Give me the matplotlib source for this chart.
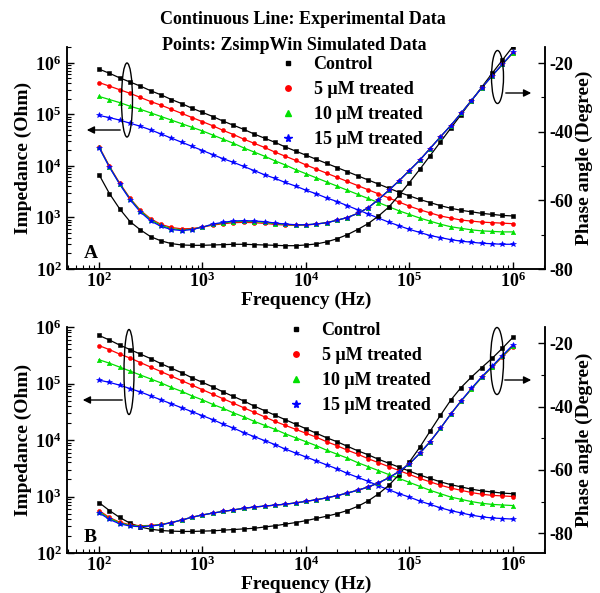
import numpy as np
import matplotlib
matplotlib.use("Agg")
import matplotlib.pyplot as plt
from matplotlib.lines import Line2D
from matplotlib.patches import Ellipse, FancyArrowPatch
from matplotlib.ticker import LogLocator, FuncFormatter, NullFormatter, MultipleLocator

plt.rcParams['font.family'] = ['Liberation Serif', 'DejaVu Serif']
plt.rcParams['font.weight'] = 'bold'
plt.rcParams['mathtext.fontset'] = 'custom'
plt.rcParams['mathtext.rm'] = 'Liberation Serif:bold'
plt.rcParams['mathtext.bf'] = 'Liberation Serif:bold'
plt.rcParams['axes.unicode_minus'] = False

# measurement frequencies, 100 Hz .. 1 MHz, 10 points per decade
freq = np.logspace(2, 6, 41)

labels = ['Control', '5 μM treated', '10 μM treated', '15 μM treated']
colors = ['black', 'red', '#00e000', 'blue']
markers = ['s', 'o', '^', '*']
msizes = [2.6, 2.9, 3.2, 4.3]

# ---- panel A : log10 |Z| (Ohm) ----
zA_ctrl = [5.88, 5.80, 5.71, 5.63, 5.55, 5.46, 5.38, 5.29, 5.21, 5.12,
           5.04, 4.96, 4.87, 4.79, 4.71, 4.62, 4.54, 4.46, 4.37, 4.29,
           4.21, 4.13, 4.05, 3.97, 3.89, 3.81, 3.73, 3.65, 3.57, 3.49,
           3.42, 3.35, 3.29, 3.23, 3.18, 3.14, 3.11, 3.08, 3.06, 3.04, 3.03]
zA_5 = [5.62, 5.55, 5.48, 5.41, 5.33, 5.25, 5.18, 5.10, 5.02, 4.94,
        4.86, 4.78, 4.69, 4.61, 4.52, 4.44, 4.36, 4.27, 4.19, 4.11,
        4.02, 3.94, 3.86, 3.78, 3.70, 3.62, 3.54, 3.46, 3.38, 3.30,
        3.22, 3.15, 3.09, 3.03, 2.99, 2.95, 2.93, 2.91, 2.90, 2.89, 2.88]
zA_10 = [5.35, 5.29, 5.23, 5.16, 5.10, 5.03, 4.96, 4.89, 4.82, 4.75,
         4.68, 4.60, 4.52, 4.44, 4.35, 4.27, 4.19, 4.10, 4.02, 3.93,
         3.85, 3.77, 3.69, 3.61, 3.53, 3.45, 3.37, 3.29, 3.21, 3.13,
         3.06, 2.99, 2.93, 2.87, 2.82, 2.79, 2.76, 2.74, 2.73, 2.72, 2.72]
zA_15 = [4.98, 4.94, 4.89, 4.83, 4.77, 4.70, 4.62, 4.54, 4.46, 4.38,
         4.30, 4.22, 4.14, 4.07, 3.99, 3.91, 3.83, 3.76, 3.68, 3.61,
         3.53, 3.46, 3.38, 3.31, 3.23, 3.15, 3.07, 2.99, 2.91, 2.84,
         2.77, 2.71, 2.65, 2.61, 2.57, 2.54, 2.52, 2.50, 2.49, 2.48, 2.48]

# ---- panel A : phase angle (degree) ----
pA_ctrl = [-52.5, -58.0, -62.5, -66.2, -68.6, -70.6, -71.8, -72.6, -73.0, -73.1,
           -73.1, -73.0, -72.9, -72.8, -72.8, -72.9, -73.0, -73.1, -73.2, -73.2,
           -73.0, -72.7, -72.1, -71.2, -70.0, -68.5, -66.8, -64.6, -62.0, -58.5,
           -54.8, -51.0, -47.0, -43.0, -39.0, -35.0, -31.0, -27.0, -23.0, -19.1, -15.2]
pA_5 = [-44.3, -50.0, -55.0, -59.4, -62.9, -65.4, -67.0, -67.9, -68.3, -68.2,
        -67.8, -67.2, -66.8, -66.5, -66.4, -66.5, -66.7, -67.0, -67.2, -67.3,
        -67.2, -66.9, -66.5, -65.8, -65.0, -63.8, -62.2, -59.8, -57.1, -54.3,
        -51.3, -48.3, -44.9, -41.5, -38.2, -34.6, -30.9, -27.2, -23.7, -20.4, -17.1]
pA_10 = [-44.5, -50.2, -55.2, -59.6, -63.1, -65.7, -67.3, -68.2, -68.6, -68.4,
         -67.8, -67.0, -66.6, -66.2, -66.1, -66.2, -66.4, -66.8, -67.0, -67.2,
         -67.1, -66.9, -66.5, -65.8, -65.0, -63.8, -62.2, -59.8, -57.1, -54.3,
         -51.3, -48.3, -44.9, -41.5, -38.2, -34.6, -30.9, -27.2, -23.7, -20.4, -17.0]
pA_15 = [-44.6, -50.3, -55.3, -59.8, -63.4, -66.0, -67.6, -68.5, -68.8, -68.5,
         -67.8, -66.9, -66.4, -66.0, -65.9, -66.0, -66.2, -66.6, -66.9, -67.1,
         -67.1, -66.9, -66.5, -65.8, -65.0, -63.8, -62.2, -59.8, -57.1, -54.3,
         -51.3, -48.3, -44.9, -41.5, -38.2, -34.6, -30.9, -27.2, -23.7, -20.3, -16.9]

# ---- panel B : log10 |Z| (Ohm) ----
zB_ctrl = [5.85, 5.77, 5.68, 5.60, 5.52, 5.44, 5.35, 5.27, 5.19, 5.10,
           5.02, 4.94, 4.85, 4.77, 4.69, 4.60, 4.52, 4.44, 4.36, 4.28,
           4.20, 4.12, 4.04, 3.97, 3.89, 3.81, 3.74, 3.66, 3.59, 3.52,
           3.45, 3.38, 3.32, 3.26, 3.21, 3.17, 3.13, 3.10, 3.08, 3.06, 3.05]
zB_5 = [5.67, 5.60, 5.52, 5.45, 5.37, 5.29, 5.21, 5.13, 5.05, 4.97,
        4.89, 4.81, 4.73, 4.65, 4.57, 4.49, 4.41, 4.33, 4.26, 4.19,
        4.12, 4.05, 3.97, 3.90, 3.82, 3.75, 3.67, 3.60, 3.53, 3.46,
        3.39, 3.32, 3.26, 3.20, 3.15, 3.11, 3.07, 3.04, 3.02, 3.01, 3.00]
zB_10 = [5.42, 5.36, 5.29, 5.22, 5.15, 5.08, 5.01, 4.93, 4.86, 4.78,
         4.71, 4.63, 4.56, 4.48, 4.41, 4.33, 4.26, 4.19, 4.11, 4.04,
         3.97, 3.90, 3.82, 3.75, 3.68, 3.60, 3.53, 3.46, 3.39, 3.32,
         3.25, 3.18, 3.11, 3.05, 2.99, 2.95, 2.91, 2.88, 2.86, 2.85, 2.84]
zB_15 = [5.06, 5.02, 4.97, 4.91, 4.85, 4.78, 4.71, 4.64, 4.57, 4.50,
         4.43, 4.36, 4.28, 4.21, 4.13, 4.06, 3.99, 3.92, 3.84, 3.77,
         3.70, 3.63, 3.56, 3.49, 3.41, 3.34, 3.27, 3.19, 3.12, 3.05,
         2.99, 2.92, 2.86, 2.80, 2.75, 2.71, 2.67, 2.64, 2.62, 2.61, 2.60]

# ---- panel B : phase angle (degree) ----
pB_ctrl = [-70.3, -72.8, -75.0, -76.8, -78.0, -78.7, -79.1, -79.3, -79.4, -79.4,
           -79.3, -79.2, -79.0, -78.8, -78.6, -78.4, -78.0, -77.6, -77.1, -76.6,
           -76.0, -75.3, -74.6, -73.8, -72.8, -71.5, -69.8, -67.6, -64.9, -61.5,
           -57.5, -52.9, -47.8, -42.8, -38.0, -34.0, -30.7, -27.7, -24.8, -21.6, -18.2]
pB_5 = [-72.8, -75.0, -76.5, -77.3, -77.6, -77.5, -77.2, -76.6, -75.8, -74.9,
        -74.2, -73.6, -73.1, -72.6, -72.1, -71.7, -71.4, -71.1, -70.8, -70.4,
        -69.9, -69.4, -68.8, -68.1, -67.3, -66.4, -65.4, -64.1, -62.5, -60.5,
        -58.1, -54.8, -51.1, -46.9, -42.4, -38.3, -34.5, -30.8, -27.6, -24.3, -21.1]
pB_10 = [-73.2, -75.3, -76.7, -77.5, -77.7, -77.6, -77.2, -76.6, -75.8, -74.9,
         -74.2, -73.6, -73.1, -72.6, -72.1, -71.7, -71.4, -71.1, -70.8, -70.4,
         -69.9, -69.4, -68.8, -68.1, -67.3, -66.4, -65.4, -64.1, -62.5, -60.5,
         -58.1, -54.8, -51.1, -46.9, -42.4, -38.3, -34.5, -30.8, -27.5, -24.1, -20.9]
pB_15 = [-73.5, -75.6, -77.0, -77.7, -77.9, -77.7, -77.3, -76.6, -75.8, -74.9,
         -74.2, -73.6, -73.1, -72.6, -72.1, -71.7, -71.4, -71.1, -70.8, -70.4,
         -69.9, -69.4, -68.8, -68.1, -67.3, -66.4, -65.4, -64.1, -62.5, -60.5,
         -58.1, -54.8, -51.1, -46.9, -42.4, -38.2, -34.3, -30.6, -27.3, -23.9, -20.6]

W, H = 600, 593


def px(x, y):
    # pixel position (from top-left) -> figure fraction
    return x / W, 1 - y / H


fig = plt.figure(figsize=(6.0, 5.93), dpi=100)


def log_fmt(v, pos):
    return r'$\mathbf{10^{%d}}$' % int(round(np.log10(v)))


def panel(rect, zs, ps, zlim, plim, letter):
    ax = fig.add_axes(rect)
    ax2 = ax.twinx()
    for z, p, c, m, s in zip(zs, ps, colors, markers, msizes):
        zz = 10 ** np.array(z)
        ax.plot(freq, zz, color=c, lw=0.9, zorder=2)
        ax.plot(freq, zz, ls='none', marker=m, ms=s, color=c, mec=c, mew=0.4, zorder=3)
        ax2.plot(freq, p, color=c, lw=0.9, zorder=2)
        ax2.plot(freq, p, ls='none', marker=m, ms=s, color=c, mec=c, mew=0.4, zorder=3)

    ax.set_xscale('log')
    ax.set_yscale('log')
    ax.set_xlim(49, 2.05e6)

    for a in (ax.xaxis, ax.yaxis):
        a.set_major_locator(LogLocator(base=10, numticks=10))
        a.set_minor_locator(LogLocator(base=10, subs=np.arange(2, 10), numticks=20))
        a.set_major_formatter(FuncFormatter(log_fmt))
        a.set_minor_formatter(NullFormatter())
    ax.set_yticks([1e2, 1e3, 1e4, 1e5, 1e6])
    ax.set_ylim(*zlim)
    ax2.yaxis.set_minor_locator(MultipleLocator(10))
    ax2.set_yticks([-80, -60, -40, -20])
    ax2.set_ylim(*plim)

    ax.tick_params(which='major', direction='in', length=5, width=1, labelsize=13, pad=4,
                   top=False, right=False)
    ax.tick_params(axis='x', which='major', pad=2)
    ax.tick_params(which='minor', direction='in', length=3, width=0.8, top=False, right=False)
    ax2.tick_params(which='major', direction='in', length=5, width=1, labelsize=13, pad=3)
    ax2.tick_params(which='minor', direction='in', length=3, width=0.8)
    for a in (ax, ax2):
        a.spines['top'].set_visible(False)
        for s in ('left', 'right', 'bottom'):
            a.spines[s].set_linewidth(1.1)

    ax.set_xlabel('Frequency (Hz)', fontsize=14, fontweight='bold')
    ax.set_ylabel('Impedance (Ohm)', fontsize=14, fontweight='bold')
    ax2.set_ylabel('Phase angle (Degree)', fontsize=14, fontweight='bold')
    ax.yaxis.set_label_coords(-0.073, 0.5)
    ax2.yaxis.set_label_coords(1.064, 0.5)
    ax.xaxis.set_label_coords(0.5, -0.1)
    ax.text(0.035, 0.07, letter, transform=ax.transAxes, fontsize=14,
            fontweight='bold', va='center', ha='left')
    return ax, ax2


axA, axA2 = panel([67 / W, 1 - 269 / H, 478 / W, 222 / H],
                  [zA_ctrl, zA_5, zA_10, zA_15], [pA_ctrl, pA_5, pA_10, pA_15],
                  (1e2, 2.04e6), (-80, -15.3), 'A')
axB, axB2 = panel([67 / W, 1 - 553 / H, 478 / W, 226 / H],
                  [zB_ctrl, zB_5, zB_10, zB_15], [pB_ctrl, pB_5, pB_10, pB_15],
                  (1e2, 1e6), (-86.2, -14.9), 'B')

handles = [Line2D([], [], ls='none', marker=m, ms=s * 1.35, color=c, mec=c)
           for c, m, s in zip(colors, markers, msizes)]
for ax, (lx, ly) in ((axA, px(281, 56)), (axB, px(289, 322))):
    ax.legend(handles, labels, loc='upper left', bbox_to_anchor=(lx, ly),
              bbox_transform=fig.transFigure, frameon=False, handlelength=0.8,
              handletextpad=1.0, labelspacing=0.45, borderpad=0, borderaxespad=0,
              prop={'size': 13, 'weight': 'bold'})

fig.text(*px(160, 20), 'Continuous Line: Experimental Data', fontsize=13,
         fontweight='bold', ha='left', va='center')
fig.text(*px(162, 45), 'Points: ZsimpWin Simulated Data', fontsize=13,
         fontweight='bold', ha='left', va='center')

# ellipses with arrows marking which axis belongs to which curves
marks = [((127, 100), 11, 74, (123, 130), (84, 130)),
         ((497.5, 77), 12, 53, (503, 93), (534, 93)),
         ((129, 372), 10, 85, (125, 400), (80, 400)),
         ((497, 361), 13, 67, (502, 380), (534, 380))]
for (cx, cy), w, h, start, end in marks:
    fig.patches.append(Ellipse(px(cx, cy), w / W, h / H, transform=fig.transFigure,
                               fill=False, ec='black', lw=1.0, zorder=10))
    fig.patches.append(FancyArrowPatch(
        px(*start), px(*end), transform=fig.transFigure, arrowstyle='-|>',
        mutation_scale=11, color='black', lw=1.0, zorder=10))

fig.savefig('out.png', dpi=100)
